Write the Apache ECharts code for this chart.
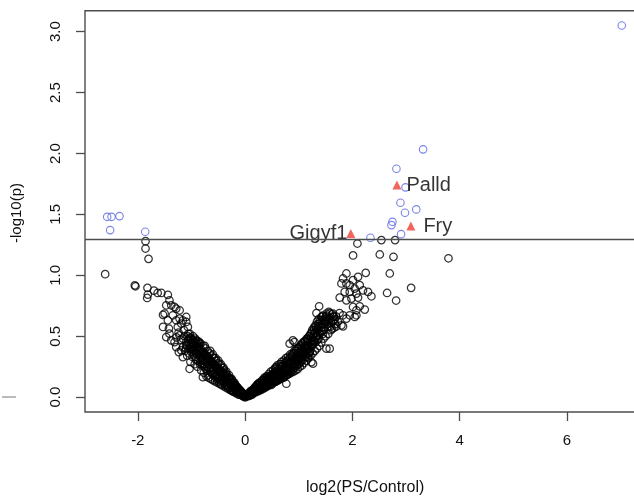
<!DOCTYPE html>
<html>
<head>
<meta charset="utf-8">
<script src="https://cdn.jsdelivr.net/npm/echarts@6/dist/echarts.min.js"></script>
<style>
html,body{margin:0;padding:0;background:#fff;}
#chart{width:634px;height:499px;}
</style>
</head>
<body>
<div id="chart"></div>
<script>
// ---- data (log2 fold change, -log10 p) ----
const xTicks = [-2, 0, 2, 4, 6];
const yTicks = [0, 0.5, 1.0, 1.5, 2.0, 2.5, 3.0];
const threshold = 1.301;

const coreRight = [
[0.01,0.00],[0.02,0.01],[0.03,0.01],[0.04,0.02],[0.05,0.01],[0.06,0.03],[0.07,0.02],[0.08,0.03],[0.09,0.02],[0.10,0.04],
[0.11,0.03],[0.12,0.05],[0.12,0.03],[0.14,0.04],[0.15,0.06],[0.16,0.04],[0.17,0.07],[0.18,0.05],[0.19,0.08],[0.20,0.06],
[0.21,0.09],[0.22,0.05],[0.23,0.08],[0.24,0.11],[0.25,0.07],[0.26,0.10],[0.27,0.06],[0.28,0.12],[0.29,0.09],[0.30,0.07],
[0.31,0.11],[0.32,0.14],[0.33,0.09],[0.34,0.12],[0.35,0.08],[0.36,0.15],[0.37,0.11],[0.38,0.13],[0.39,0.09],[0.40,0.16],
[0.41,0.12],[0.42,0.10],[0.43,0.14],[0.44,0.17],[0.45,0.11],[0.46,0.15],[0.47,0.13],[0.48,0.18],[0.49,0.10],[0.50,0.16],
[0.51,0.13],[0.52,0.19],[0.53,0.12],[0.54,0.17],[0.55,0.15],[0.56,0.21],[0.57,0.13],[0.58,0.18],[0.59,0.16],[0.60,0.22],
[0.61,0.14],[0.62,0.19],[0.63,0.17],[0.64,0.23],[0.65,0.15],[0.66,0.20],[0.67,0.25],[0.68,0.17],[0.69,0.22],[0.70,0.19],
[0.71,0.26],[0.72,0.16],[0.73,0.23],[0.74,0.20],[0.75,0.28],[0.76,0.18],[0.77,0.25],[0.78,0.22],[0.79,0.30],[0.80,0.19],
[0.81,0.27],[0.82,0.24],[0.83,0.32],[0.84,0.21],[0.85,0.29],[0.86,0.25],[0.87,0.34],[0.88,0.22],[0.89,0.30],[0.90,0.27],
[0.91,0.36],[0.92,0.24],[0.93,0.31],[0.94,0.28],[0.95,0.38],[0.96,0.26],[0.97,0.33],[0.98,0.30],[0.99,0.40],[1.00,0.27],
[1.01,0.35],[1.02,0.32],[1.03,0.42],[1.04,0.29],[1.05,0.37],[1.06,0.34],[1.07,0.44],[1.08,0.31],[1.09,0.39],[1.10,0.36],
[1.11,0.46],[1.12,0.33],[1.13,0.41],[1.14,0.38],[1.15,0.48],[1.16,0.35],[1.17,0.43],[1.18,0.40],[1.19,0.50],[1.20,0.37],
[1.21,0.45],[1.22,0.52],[1.23,0.41],[1.24,0.48],[1.25,0.55],[1.26,0.43],[1.27,0.50],[1.28,0.57],[1.29,0.46],[1.30,0.53],
[1.31,0.59],[1.32,0.49],[1.33,0.56],[1.34,0.62],[1.35,0.51],[1.36,0.58],[1.37,0.64],[1.38,0.54],[1.40,0.61],[1.42,0.57],
[1.44,0.63],[1.46,0.55],[1.48,0.60],[1.50,0.66],[1.52,0.62],[1.55,0.58],[1.57,0.65],[1.60,0.61],[1.62,0.68],[1.65,0.63],
[1.68,0.60],[1.70,0.66],[1.73,0.62],[1.76,0.69],[1.60,0.55],[1.66,0.57],
[0.05,0.02],[0.08,0.01],[0.10,0.05],[0.13,0.02],[0.15,0.03],[0.18,0.08],[0.20,0.04],[0.22,0.10],[0.25,0.05],[0.27,0.12],
[0.30,0.06],[0.32,0.13],[0.34,0.07],[0.36,0.16],[0.38,0.08],[0.40,0.17],[0.42,0.09],[0.44,0.19],[0.46,0.10],[0.48,0.21],
[0.50,0.11],[0.52,0.22],[0.54,0.12],[0.56,0.24],[0.58,0.13],[0.60,0.26],[0.62,0.14],[0.64,0.27],[0.66,0.15],[0.68,0.29],
[0.70,0.16],[0.72,0.30],[0.74,0.17],[0.76,0.32],[0.78,0.18],[0.80,0.33],[0.82,0.19],[0.84,0.35],[0.86,0.20],[0.88,0.36],
[0.90,0.21],[0.92,0.38],[0.94,0.22],[0.96,0.40],[0.98,0.23],[1.00,0.41],[1.02,0.25],[1.04,0.43],[1.06,0.26],[1.08,0.45],
[1.10,0.28],[1.12,0.46],[1.14,0.30],[1.16,0.48],[1.18,0.32],[1.20,0.50],[1.22,0.34],[1.24,0.53],[1.26,0.36],[1.28,0.55],
[1.30,0.38],[1.32,0.58],[1.34,0.40],[1.36,0.60],[1.38,0.42],[1.40,0.63],[1.42,0.45],[1.44,0.66],[1.46,0.48],[1.48,0.64],
[1.50,0.50],[1.52,0.67],[1.55,0.52],[1.58,0.69],[1.62,0.56],[1.66,0.66],[1.70,0.58],
[0.15,0.045],[0.35,0.105],[0.45,0.14],[0.55,0.185],[0.65,0.20],[0.75,0.235],[0.85,0.27],[0.95,0.31],[1.05,0.33],[1.15,0.42],
[1.25,0.46],[1.35,0.47],[1.45,0.52],[0.57,0.23],[0.67,0.27],[0.77,0.29],[0.87,0.31],[0.97,0.36],[1.07,0.39],[1.17,0.45],
[0.03,0.02],[0.06,0.01],[0.09,0.04],[0.11,0.02],[0.14,0.06],[0.17,0.04],[0.19,0.06],[0.21,0.07],[0.23,0.10],[0.26,0.08],
[0.28,0.07],[0.31,0.09],[0.33,0.12],[0.35,0.14],[0.37,0.09],[0.39,0.12],[0.41,0.15],[0.43,0.11],[0.45,0.17],[0.47,0.12],
[0.49,0.15],[0.51,0.18],[0.53,0.16],[0.55,0.13],[0.57,0.20],[0.59,0.14],[0.61,0.18],[0.63,0.21],[0.65,0.17],[0.67,0.19],
[0.69,0.25],[0.71,0.20],[0.73,0.18],[0.75,0.22],[0.77,0.27],[0.79,0.21],[0.81,0.24],[0.83,0.28],[0.85,0.23],[0.87,0.26],
[0.89,0.33],[0.91,0.25],[0.93,0.28],[0.95,0.34],[0.97,0.27],[0.99,0.31],[1.01,0.37],[1.03,0.30],[1.05,0.40],[1.07,0.34],
[1.09,0.36],[1.11,0.42],[1.13,0.35],[1.15,0.39],[1.17,0.47],[1.19,0.41],[1.21,0.38],[1.23,0.49],[1.25,0.43],[1.27,0.47],
[1.29,0.52],[1.31,0.45],[1.33,0.50],[1.35,0.55],[1.37,0.48],[1.39,0.52],[1.41,0.59],[1.43,0.54],[1.45,0.60],[1.47,0.57],
[1.49,0.62],[1.53,0.60],[1.56,0.63],[1.59,0.58],[1.63,0.62],[1.67,0.64]
];

const coreLeft = [
[-0.01,0.00],[-0.02,0.01],[-0.03,0.02],[-0.04,0.01],[-0.05,0.03],[-0.06,0.02],[-0.07,0.04],[-0.08,0.03],[-0.09,0.05],[-0.10,0.02],
[-0.11,0.06],[-0.12,0.04],[-0.13,0.07],[-0.14,0.05],[-0.15,0.08],[-0.16,0.04],[-0.17,0.09],[-0.18,0.06],[-0.19,0.10],[-0.20,0.07],
[-0.21,0.11],[-0.22,0.05],[-0.23,0.12],[-0.24,0.08],[-0.25,0.14],[-0.26,0.10],[-0.27,0.06],[-0.28,0.15],[-0.29,0.11],[-0.30,0.08],
[-0.31,0.16],[-0.32,0.12],[-0.33,0.09],[-0.34,0.18],[-0.35,0.13],[-0.36,0.20],[-0.37,0.10],[-0.38,0.15],[-0.39,0.22],[-0.40,0.12],
[-0.41,0.17],[-0.42,0.24],[-0.43,0.14],[-0.44,0.19],[-0.45,0.11],[-0.46,0.26],[-0.47,0.16],[-0.48,0.21],[-0.49,0.13],[-0.50,0.28],
[-0.51,0.18],[-0.52,0.23],[-0.53,0.15],[-0.54,0.30],[-0.55,0.20],[-0.56,0.25],[-0.57,0.17],[-0.58,0.32],[-0.59,0.22],[-0.60,0.27],
[-0.61,0.19],[-0.62,0.34],[-0.63,0.24],[-0.64,0.29],[-0.65,0.21],[-0.66,0.36],[-0.67,0.26],[-0.68,0.31],[-0.69,0.18],[-0.70,0.38],
[-0.71,0.28],[-0.72,0.33],[-0.73,0.23],[-0.74,0.40],[-0.75,0.30],[-0.76,0.35],[-0.77,0.20],[-0.78,0.42],[-0.79,0.27],[-0.80,0.37],
[-0.81,0.32],[-0.82,0.22],[-0.83,0.44],[-0.84,0.29],[-0.85,0.39],[-0.86,0.34],[-0.88,0.46],[-0.89,0.25],[-0.90,0.41],
[-0.91,0.36],[-0.92,0.31],[-0.93,0.48],[-0.94,0.27],[-0.95,0.43],[-0.96,0.38],[-0.97,0.50],[-0.98,0.33],[-1.00,0.45],[-1.01,0.40],
[-1.02,0.29],[-1.03,0.52],[-1.05,0.36],[-1.06,0.47],[-1.08,0.42],[-1.12,0.38],[-1.13,0.50],
[-0.05,0.01],[-0.08,0.05],[-0.10,0.06],[-0.12,0.02],[-0.14,0.08],[-0.16,0.03],[-0.18,0.10],[-0.20,0.04],[-0.22,0.12],[-0.24,0.05],
[-0.26,0.14],[-0.28,0.06],[-0.30,0.16],[-0.32,0.07],[-0.34,0.14],[-0.36,0.08],[-0.38,0.19],[-0.40,0.09],[-0.42,0.20],[-0.44,0.10],
[-0.46,0.22],[-0.48,0.11],[-0.50,0.24],[-0.52,0.12],[-0.54,0.25],[-0.56,0.13],[-0.58,0.27],[-0.60,0.14],[-0.62,0.29],[-0.64,0.15],
[-0.66,0.31],[-0.68,0.16],[-0.70,0.33],[-0.72,0.17],[-0.74,0.35],[-0.76,0.25],[-0.78,0.37],[-0.80,0.26],[-0.82,0.39],[-0.84,0.27],
[-0.86,0.42],[-0.88,0.30],[-0.90,0.44],[-0.92,0.33],[-0.94,0.46],[-0.96,0.35],[-0.98,0.47],[-1.00,0.37],[-1.02,0.49],[-1.04,0.40],
[-1.06,0.52],[-1.08,0.34],[-1.10,0.45],[-1.14,0.55],[-1.16,0.41],[-1.20,0.47],[-1.24,0.53],[-1.28,0.49],
[-0.20,0.12],[-0.30,0.18],[-0.40,0.24],[-0.50,0.30],[-0.60,0.35],[-0.25,0.15],[-0.35,0.21],[-0.45,0.27],[-0.55,0.32],[-0.65,0.38],
[-0.70,0.25],[-0.80,0.30],[-0.90,0.35],[-0.75,0.42],[-0.85,0.45],
[-0.03,0.01],[-0.06,0.04],[-0.09,0.03],[-0.11,0.05],[-0.13,0.04],[-0.15,0.06],[-0.17,0.05],[-0.19,0.07],[-0.21,0.09],[-0.23,0.06],
[-0.25,0.10],[-0.27,0.12],[-0.29,0.08],[-0.31,0.13],[-0.33,0.15],[-0.35,0.10],[-0.37,0.17],[-0.39,0.13],[-0.41,0.19],[-0.43,0.16],
[-0.45,0.20],[-0.47,0.14],[-0.49,0.22],[-0.51,0.16],[-0.53,0.24],[-0.55,0.18],[-0.57,0.26],[-0.59,0.19],[-0.61,0.28],[-0.63,0.21],
[-0.65,0.30],[-0.67,0.23],[-0.69,0.32],[-0.71,0.22],[-0.73,0.34],[-0.75,0.27],[-0.77,0.36],[-0.79,0.31],[-0.81,0.34],[-0.83,0.33],
[-0.85,0.36],[-0.87,0.40],[-0.89,0.38],[-0.91,0.42],[-0.93,0.40],[-0.95,0.39],[-0.97,0.44],[-0.99,0.42],[-1.01,0.48],[-1.04,0.44],
[-1.07,0.50],[-1.10,0.40]
];

const outerRight = [
[1.888,1.015],[1.825,0.974],[1.795,0.933],[1.888,0.933],[2.011,0.960],[2.105,0.987],[2.248,1.020],[2.136,0.919],[1.950,0.919],[2.043,0.891],
[1.856,0.864],[1.950,0.864],[2.074,0.850],[2.198,0.877],[2.291,0.864],[2.354,0.828],[1.763,0.817],[1.888,0.795],[1.981,0.809],[2.105,0.817],
[2.011,0.740],[2.136,0.746],[2.230,0.719],[1.950,0.672],[2.043,0.658],[1.888,0.645],[1.825,0.581],[2.074,0.672],[2.074,0.713],[1.825,0.672],
[1.795,0.590],[1.638,0.686],[1.515,0.686],[1.420,0.658],[1.380,0.746],[1.576,0.398],[1.200,0.360],[1.235,0.288],[0.890,0.466],
[2.093,1.261],[2.540,1.289],[2.795,1.289],[2.012,1.163],[2.510,1.171],[2.765,1.152],[2.696,1.015],[2.646,0.855],[2.814,0.793],[3.094,0.897],[3.790,1.140],
[1.265,0.275],[1.515,0.398],[1.080,0.357],[0.920,0.452],[1.170,0.329],[0.768,0.110],[0.580,0.247],[0.830,0.439],
[1.330,0.690],[1.450,0.670],[1.640,0.660],[1.560,0.700]
];

const outerLeft = [
[-2.608,1.009],[-1.856,1.280],[-1.856,1.220],[-1.800,1.135],[-2.056,0.918],[-2.043,0.910],[-1.820,0.897],[-1.813,0.842],[-1.825,0.814],
[-1.700,0.875],[-1.630,0.855],[-1.560,0.855],[-1.440,0.840],[-1.410,0.795],[-1.470,0.754],[-1.377,0.754],[-1.315,0.740],[-1.500,0.686],
[-1.530,0.676],[-1.440,0.631],[-1.347,0.672],[-1.284,0.631],[-1.222,0.645],[-1.160,0.631],[-1.097,0.617],[-1.190,0.604],[-1.254,0.576],
[-1.067,0.576],[-1.410,0.521],[-1.470,0.493],[-1.377,0.466],[-1.315,0.452],[-1.222,0.507],[-1.160,0.480],[-1.035,0.480],[-0.974,0.452],
[-0.910,0.466],[-0.849,0.439],[-1.097,0.425],[-1.284,0.411],[-1.190,0.384],[-1.004,0.411],[-1.420,0.563],[-1.530,0.576],[-1.284,0.727],
[-1.220,0.713],[-1.097,0.658],[-1.235,0.370],[-1.160,0.329],[-1.035,0.233],[-0.787,0.164],[-0.880,0.411]
];

const sigPoints = [
[7.02,3.05],[3.317,2.034],[2.82,1.875],[2.99,1.722],[2.895,1.595],[2.98,1.513],[3.19,1.541],[2.746,1.439],[2.727,1.412],[2.907,1.338],[2.336,1.308],
[-2.571,1.480],[-2.490,1.480],[-2.341,1.486],[-2.515,1.371],[-1.862,1.357]
];

const genes = ['Gigyf1', 'Palld', 'Fry'];
const geneX = [1.97, 2.83, 3.09];
const geneY = [1.344, 1.741, 1.404];

// ---- chart ----
const FONT = 'Liberation Sans, Arial, Helvetica, sans-serif';
const chart = echarts.init(document.getElementById('chart'), null, {renderer: 'canvas'});

const labelPos = {Gigyf1: {position: 'left', distance: -1}, Palld: {position: 'right', distance: 5}, Fry: {position: 'right', distance: 8}};

const geneData = genes.map((g, i) => ({
  name: g,
  value: [geneX[i], geneY[i]],
  label: Object.assign({show: true, formatter: g, fontSize: 20, color: '#000', fontFamily: FONT}, labelPos[g])
}));

const openCircle = (color, w) => ({
  color: 'rgba(0,0,0,0)', borderColor: color, borderWidth: w
});

chart.setOption({
  animation: false,
  backgroundColor: '#fff',
  grid: {
    show: true, left: 85, top: 10.7, width: 556.3, height: 401.3,
    outerBoundsMode: 'none', containLabel: false,
    borderColor: '#4d4d4d', borderWidth: 1.4, backgroundColor: 'transparent'
  },
  xAxis: {
    type: 'value', min: -2.984, max: 7.384,
    axisLine: {show: false, onZero: false},
    splitLine: {show: false},
    axisTick: {show: true, length: 9, customValues: xTicks, lineStyle: {color: '#4d4d4d', width: 1.3}},
    axisLabel: {customValues: xTicks, margin: 21, fontSize: 15, color: '#111', fontFamily: FONT, formatter: v => String(v)}
  },
  yAxis: {
    type: 'value', min: -0.122, max: 3.172,
    axisLine: {show: false, onZero: false},
    splitLine: {show: false},
    axisTick: {show: true, length: 9, customValues: yTicks, lineStyle: {color: '#4d4d4d', width: 1.3}},
    axisLabel: {customValues: yTicks, rotate: 90, margin: 22, fontSize: 15, color: '#111', fontFamily: FONT, formatter: v => v.toFixed(1)}
  },
  graphic: [
    {type: 'text', left: 306, top: 480, style: {text: 'log2(PS/Control)', font: '16px ' + FONT, fill: '#111'}},
    {type: 'text', x: 17, y: 213, rotation: Math.PI / 2, style: {text: '-log10(p)', font: '15px ' + FONT, fill: '#111', align: 'center', verticalAlign: 'middle'}},
    {type: 'line', shape: {x1: 2, y1: 397, x2: 16, y2: 397}, style: {stroke: '#777', lineWidth: 1}}
  ],
  series: [
    {
      type: 'scatter', symbol: 'circle', symbolSize: 7.5,
      data: coreLeft.concat(coreRight, outerLeft, outerRight),
      itemStyle: openCircle('#000', 1.25),
      markLine: {
        silent: true, symbol: 'none', label: {show: false},
        lineStyle: {color: '#4d4d4d', width: 1.4, type: 'solid'},
        data: [{yAxis: threshold}]
      }
    },
    {
      type: 'scatter', symbol: 'circle', symbolSize: 7.5,
      data: sigPoints,
      itemStyle: openCircle('#5a64e0', 1.1)
    },
    {
      type: 'scatter', symbol: 'triangle', symbolSize: 9,
      data: geneData,
      itemStyle: {color: '#ee3f33'}
    }
  ]
});
</script>
</body>
</html>
